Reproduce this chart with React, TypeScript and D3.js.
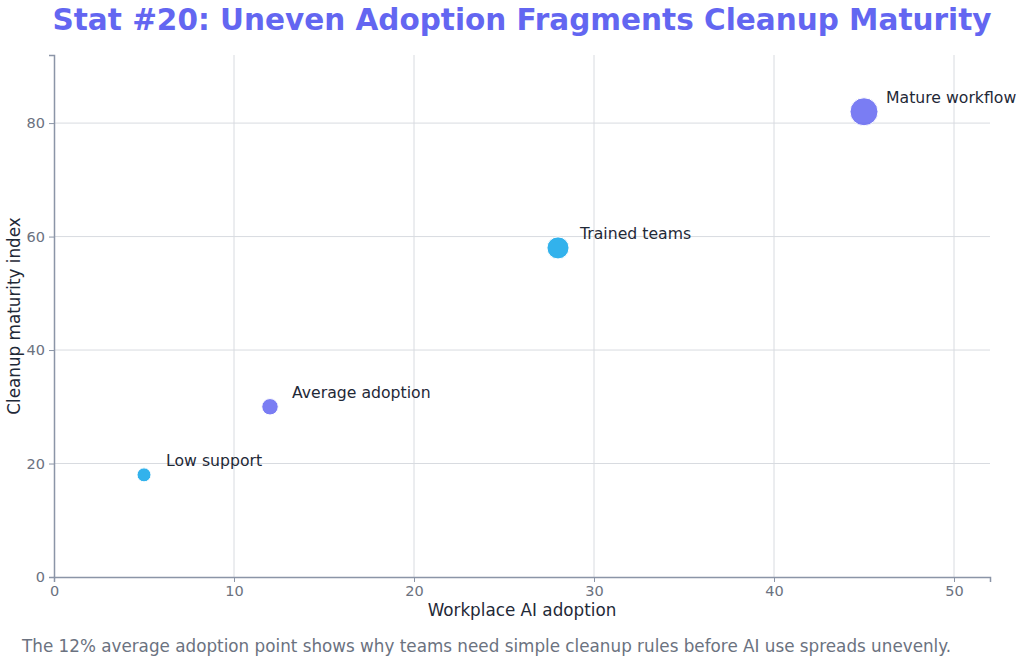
import * as d3 from "d3";
import React, { useRef, useEffect } from "react";

const labels = ["Low support", "Average adoption", "Trained teams", "Mature workflow"];
const adoption = [5, 12, 28, 45];
const maturity = [18, 30, 58, 82];
const colors = ["#0ea5e9", "#6366f1", "#0ea5e9", "#6366f1"];
const xTicks = [0, 10, 20, 30, 40, 50];
const yTicks = [0, 20, 40, 60, 80];

const title = "Stat #20: Uneven Adoption Fragments Cleanup Maturity";
const note = "The 12% average adoption point shows why teams need simple cleanup rules before AI use spreads unevenly.";

const App: React.FC = () => {
  const svgRef = useRef<SVGSVGElement>(null);

  useEffect(() => {
    document.body.style.margin = "0";
    const svg = d3.select(svgRef.current);
    svg.selectAll("*").remove();

    const width = 1024;
    const height = 663;
    const marginTop = 55;
    const marginRight = 34;
    const marginBottom = 86;
    const marginLeft = 54;
    const font = "'DejaVu Sans', sans-serif";

    const x = d3.scaleLinear().domain([0, 52]).range([marginLeft, width - marginRight]);
    const y = d3.scaleLinear().domain([0, 92]).range([height - marginBottom, marginTop]);
    const r = d3.scaleLinear().domain(d3.extent(adoption) as [number, number]).range([7, 14]);

    svg.attr("width", width).attr("height", height).attr("viewBox", `0 0 ${width} ${height}`)
      .style("display", "block").attr("font-family", font);

    svg.append("text")
      .attr("x", width / 2 + 10)
      .attr("y", 30)
      .attr("text-anchor", "middle")
      .attr("font-size", 29.5)
      .attr("font-weight", "bold")
      .attr("fill", "#6366f1")
      .text(title);

    // grid
    svg.append("g")
      .selectAll("line")
      .data(xTicks.filter(d => d > 0))
      .join("line")
      .attr("x1", d => x(d)).attr("x2", d => x(d))
      .attr("y1", marginTop).attr("y2", height - marginBottom)
      .attr("stroke", "#d8dbe0").attr("stroke-width", 1);

    svg.append("g")
      .selectAll("line")
      .data(yTicks.filter(d => d > 0))
      .join("line")
      .attr("x1", marginLeft).attr("x2", width - marginRight)
      .attr("y1", d => y(d)).attr("y2", d => y(d))
      .attr("stroke", "#d8dbe0").attr("stroke-width", 1);

    svg.append("g")
      .attr("transform", `translate(0,${height - marginBottom})`)
      .call(d3.axisBottom(x).tickValues(xTicks).tickSize(5).tickPadding(4))
      .attr("font-family", font)
      .call(g => g.select(".domain").attr("stroke", "#8b95a7").attr("stroke-width", 1.5))
      .call(g => g.selectAll(".tick line").attr("stroke", "#8b95a7"))
      .call(g => g.selectAll(".tick text").attr("fill", "#6b7280").attr("font-size", 14.5));

    svg.append("g")
      .attr("transform", `translate(${marginLeft},0)`)
      .call(d3.axisLeft(y).tickValues(yTicks).tickSize(5).tickPadding(4))
      .attr("font-family", font)
      .call(g => g.select(".domain").attr("stroke", "#8b95a7").attr("stroke-width", 1.5))
      .call(g => g.selectAll(".tick line").attr("stroke", "#8b95a7"))
      .call(g => g.selectAll(".tick text").attr("fill", "#6b7280").attr("font-size", 14.5));

    svg.append("text")
      .attr("x", (marginLeft + width - marginRight) / 2)
      .attr("y", 616)
      .attr("text-anchor", "middle")
      .attr("font-size", 16.8)
      .attr("fill", "#1f2937")
      .text("Workplace AI adoption");

    svg.append("text")
      .attr("transform", `translate(20,${(marginTop + height - marginBottom) / 2}) rotate(-90)`)
      .attr("text-anchor", "middle")
      .attr("font-size", 16.8)
      .attr("fill", "#1f2937")
      .text("Cleanup maturity index");

    const idx = d3.range(labels.length);

    svg.append("g")
      .selectAll("circle")
      .data(idx)
      .join("circle")
      .attr("cx", i => x(adoption[i]))
      .attr("cy", i => y(maturity[i]))
      .attr("r", i => r(adoption[i]))
      .attr("fill", i => colors[i])
      .attr("fill-opacity", 0.85)
      .attr("stroke", "#ffffff")
      .attr("stroke-width", 1);

    svg.append("g")
      .selectAll("text")
      .data(idx)
      .join("text")
      .attr("x", i => x(adoption[i]) + 22)
      .attr("y", i => y(maturity[i]) - 9)
      .attr("font-size", 15.7)
      .attr("fill", "#1f2937")
      .text(i => labels[i]);

    svg.append("text")
      .attr("x", 22)
      .attr("y", 652)
      .attr("font-size", 16.8)
      .attr("fill", "#6b7280")
      .text(note);
  }, []);

  return <svg ref={svgRef}></svg>;
};

export default App;
